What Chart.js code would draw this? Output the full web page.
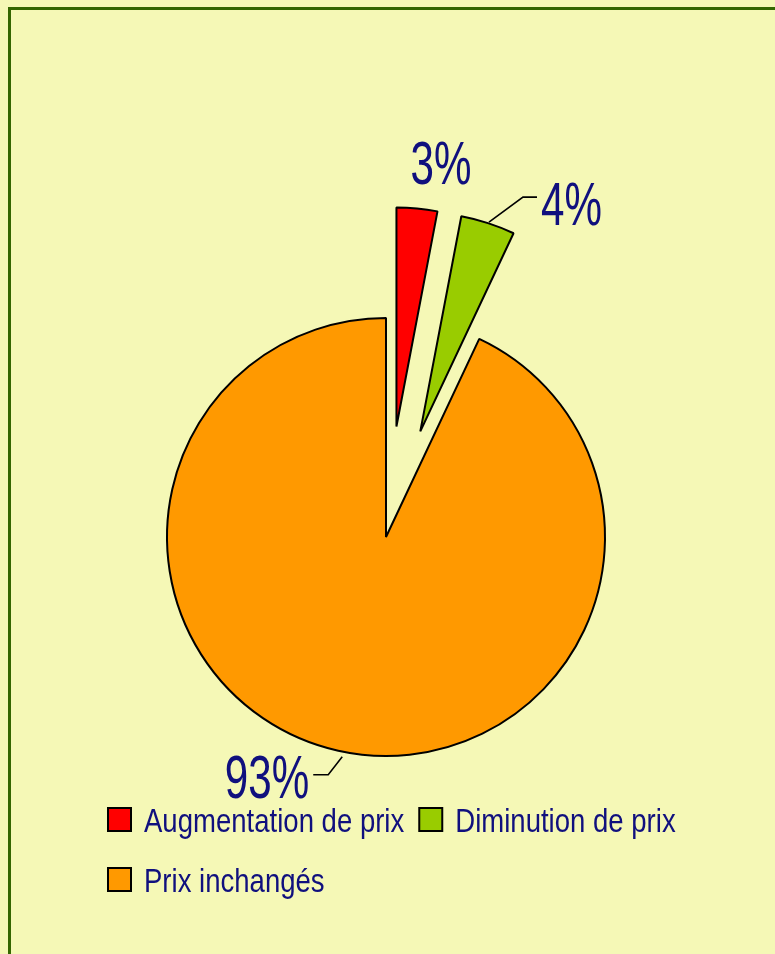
<!DOCTYPE html>
<html>
<head>
<meta charset="utf-8">
<script src="https://cdn.jsdelivr.net/npm/chart.js@4.4.1/dist/chart.umd.min.js"></script>
<style>
  html, body { margin: 0; padding: 0; background: #F5F8B6; overflow: hidden; }
  #frame { position: absolute; left: 8px; top: 7px; width: 800px; height: 1000px;
           border-left: 3px solid #336600; border-top: 3px solid #336600; }
  #chart { position: absolute; left: 0; top: 0; }
</style>
</head>
<body>
<div id="frame"></div>
<canvas id="chart" width="775" height="954"></canvas>
<script>
const categories = ['Augmentation de prix', 'Diminution de prix', 'Prix inchangés']
const shares = [3, 4, 93]

const NAVY = '#10107E'
const FONT = "'Liberation Sans', Arial, sans-serif"

// pulls slices out of the pie along their middle angle, keeping their radius
const explode = {
    id: 'explode',
    beforeDatasetDraw(chart, args, opts) {
        const ctx = chart.ctx
        args.meta.data.forEach((arc, i) => {
            const d = opts.distance[i] || 0
            const mid = (arc.startAngle + arc.endAngle) / 2
            ctx.save()
            ctx.translate(Math.cos(mid) * d, Math.sin(mid) * d)
            arc.draw(ctx)
            ctx.restore()
        })
        return false
    }
}

// percentage labels with excel style leader lines
const sliceLabels = {
    id: 'sliceLabels',
    afterDatasetsDraw(chart, args, opts) {
        const ctx = chart.ctx
        const meta = chart.getDatasetMeta(0)
        const values = chart.data.datasets[0].data
        const total = values.reduce((a, b) => a + b, 0)
        const dist = chart.options.plugins.explode.distance
        meta.data.forEach((arc, i) => {
            const lay = opts.layout[i]
            const mid = (arc.startAngle + arc.endAngle) / 2
            const d = dist[i] || 0
            const ox = arc.x + Math.cos(mid) * (d + arc.outerRadius)
            const oy = arc.y + Math.sin(mid) * (d + arc.outerRadius)
            if (lay.leader) {
                ctx.save()
                ctx.strokeStyle = '#000'
                ctx.lineWidth = 1.6
                ctx.beginPath()
                lay.leader.forEach(([dx, dy], k) => {
                    if (k == 0) ctx.moveTo(ox + dx, oy + dy)
                    else ctx.lineTo(ox + dx, oy + dy)
                })
                ctx.stroke()
                ctx.restore()
            }
            const txt = Math.round(values[i] / total * 100) + '%'
            ctx.save()
            ctx.translate(ox + lay.text[0], oy + lay.text[1])
            ctx.scale(opts.stretch, 1)
            ctx.font = `${opts.size}px ${FONT}`
            ctx.fillStyle = NAVY
            ctx.textAlign = lay.align
            ctx.textBaseline = 'alphabetic'
            ctx.fillText(txt, 0, 0)
            ctx.restore()
        })
    }
}

// legend in condensed type (no narrow font installed, so the text is squeezed)
const condensedLegend = {
    id: 'condensedLegend',
    afterDraw(chart, args, opts) {
        const ctx = chart.ctx
        const ds = chart.data.datasets[0]
        const box = opts.box
        ctx.save()
        ctx.font = `${opts.size}px ${FONT}`
        ctx.textBaseline = 'alphabetic'
        let x = opts.left
        let y = opts.top
        chart.data.labels.forEach((label, i) => {
            const tw = ctx.measureText(label).width * opts.stretch
            const w = box + opts.gap + tw
            if (x > opts.left && x + w > opts.right) {
                x = opts.left
                y += opts.lineHeight
            }
            ctx.fillStyle = ds.backgroundColor[i]
            ctx.strokeStyle = ds.borderColor
            ctx.lineWidth = ds.borderWidth
            ctx.fillRect(x + 1, y + 1, box - 2, box - 2)
            ctx.strokeRect(x + 1, y + 1, box - 2, box - 2)
            ctx.save()
            ctx.translate(x + box + opts.gap, y + opts.baseline)
            ctx.scale(opts.stretch, 1)
            ctx.fillStyle = NAVY
            ctx.fillText(label, 0, 0)
            ctx.restore()
            x += w + opts.spacing
        })
        ctx.restore()
    }
}

new Chart(document.getElementById('chart'), {
    type: 'pie',
    data: {
        labels: categories,
        datasets: [{
            data: shares,
            backgroundColor: ['#FF0000', '#99CC00', '#FF9900'],
            borderColor: '#000000',
            borderWidth: 2
        }]
    },
    options: {
        responsive: false,
        animation: false,
        events: [],
        radius: 219,
        layout: { padding: { left: 0, right: 3, top: 120, bottom: 0 } },
        plugins: {
            legend: { display: false },
            tooltip: { enabled: false },
            explode: { distance: [111, 111, 0] },
            sliceLabels: {
                size: 62,
                stretch: 0.68,
                layout: [
                    { text: [24, -24], align: 'center' },
                    { leader: [[1, -1], [35, -26], [49, -26]], text: [53, 2], align: 'left' },
                    { leader: [[4, 6], [-10, 24], [-25, 24]], text: [-29, 47], align: 'right' }
                ]
            },
            condensedLegend: {
                left: 107, top: 807, right: 700,
                box: 25, gap: 12, spacing: 14, lineHeight: 60, baseline: 25,
                size: 34, stretch: 0.81
            }
        }
    },
    plugins: [explode, sliceLabels, condensedLegend]
})
</script>
</body>
</html>
